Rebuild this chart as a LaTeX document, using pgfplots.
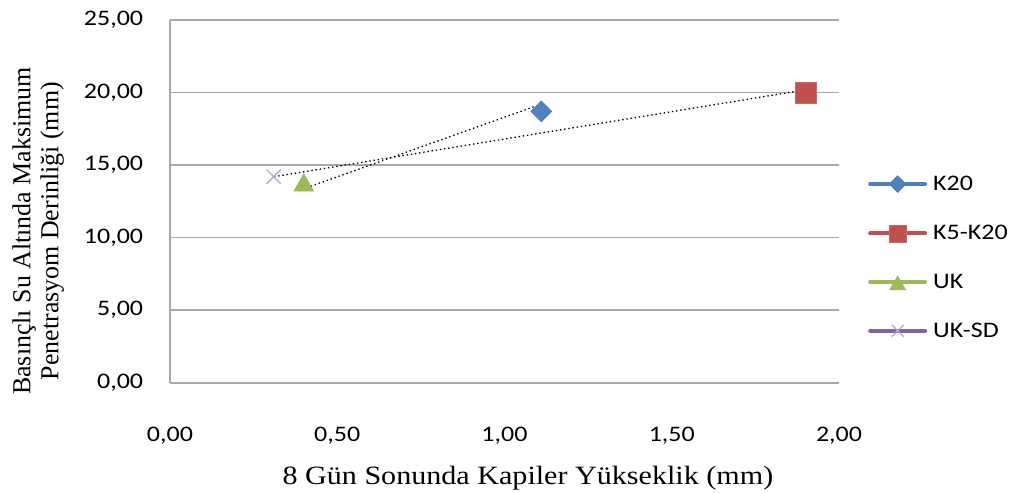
\documentclass[border=0pt]{standalone}
\usepackage{fontspec}
\usepackage{pgfplots}
\pgfplotsset{compat=1.18}
\setmainfont{Liberation Serif}
\newfontfamily\calib[FakeStretch=1.17]{Carlito}
\newfontfamily\titlefont[FakeStretch=1.14]{Liberation Serif}

\definecolor{cBlue}{HTML}{4F81BD}
\definecolor{cRed}{HTML}{C0504D}
\definecolor{cGreen}{HTML}{9BBB59}
\definecolor{cPurple}{HTML}{8064A2}
\definecolor{cLilac}{HTML}{B3A5CF}
\definecolor{gridgray}{HTML}{A8A8A8}

% legend entry: thick line with the marker in its middle
\pgfplotsset{
  legline/.style={legend image code/.code={
    \draw[##1, sharp plot, solid, line width=4bp, line cap=round,
          mark repeat=2, mark phase=2, every mark/.append style={scale=0.8}]
      plot coordinates {(0bp,0bp) (27.5bp,0bp) (55bp,0bp)};}},
}

\begin{document}
\begin{tikzpicture}
\begin{axis}[
  scale only axis,
  width=669bp, height=362.7bp,
  xmin=0, xmax=2, ymin=0, ymax=25,
  axis x line=bottom, axis y line=left,
  axis line style={-, draw=gridgray, line width=1.6bp},
  xtick={0,0.5,1,1.5,2},
  ytick={0,5,10,15,20,25},
  ymajorgrids,
  grid style={gridgray, line width=1.6bp},
  major tick length=0pt,
  tick style={draw=none},
  scaled ticks=false,
  tick label style={font=\calib\fontsize{22.3}{25}\selectfont},
  xticklabel style={anchor=north, inner sep=0pt, yshift=-44bp},
  yticklabel style={anchor=east, inner sep=0pt, xshift=-26.7bp},
  /pgf/number format/fixed,
  /pgf/number format/fixed zerofill,
  /pgf/number format/precision=2,
  /pgf/number format/use comma,
  /pgf/number format/assume math mode=true,
  xlabel={8 Gün Sonunda Kapiler Yükseklik (mm)},
  xlabel style={at={(rel axis cs:0.535,-0.282)}, anchor=base, inner sep=0pt,
                font=\titlefont\fontsize{26.5}{30}\selectfont},
  ylabel={Basınçlı Su Altında Maksimum\\Penetrasyom Derinliği (mm)},
  ylabel style={at={(rel axis cs:-0.197,0.418)}, anchor=center, align=center,
                inner sep=0pt, font=\fontsize{26}{28}\selectfont},
  legend cell align=left,
  legend style={at={(rel axis cs:1.0433,0.346)}, anchor=west,
                draw=none, fill=none, inner sep=0pt,
                row sep=32.6bp, column sep=6bp,
                font=\calib\fontsize{22.3}{25}\selectfont,
                nodes={inner sep=0pt}},
]
\coordinate (o) at (rel axis cs:0,0);

\addplot[color=cBlue, only marks, mark=square*, mark size=7.4bp,
  mark options={rotate=45, fill=cBlue, draw=cBlue, line width=0.6bp}, legline]
  coordinates {(1.11,18.70)};
\addlegendentry{K20}

\addplot[color=cRed, only marks, mark=square*, mark size=10.5bp,
  mark options={fill=cRed, draw=cRed!85!white, line width=0.6bp}, legline]
  coordinates {(1.90,20.00)};
\addlegendentry{K5-K20}

\addplot[color=cGreen, only marks, mark=triangle*, mark size=11.5bp,
  mark options={fill=cGreen, draw=cGreen, line width=0.6bp, yshift=-2.9bp}, legline]
  coordinates {(0.40,13.80)};
\addlegendentry{UK}

\addplot[color=cPurple, only marks, mark=x, mark size=10bp,
  mark options={draw=cLilac, line width=1.3bp}, legline]
  coordinates {(0.31,14.20)};
\addlegendentry{UK-SD}

% dotted connecting lines
\addplot[forget plot, black, line width=1.3bp, dash pattern=on 1.4bp off 2.8bp]
  coordinates {(0.409,13.44) (1.096,19.09)};
\addplot[forget plot, black, line width=1.3bp, dash pattern=on 1.4bp off 2.8bp]
  coordinates {(0.311,14.20) (1.895,20.17)};
\end{axis}
\pgfresetboundingbox
\path ([shift={(-170bp,-111.3bp)}]o) rectangle ++(1012bp,494bp);
\end{tikzpicture}
\end{document}
